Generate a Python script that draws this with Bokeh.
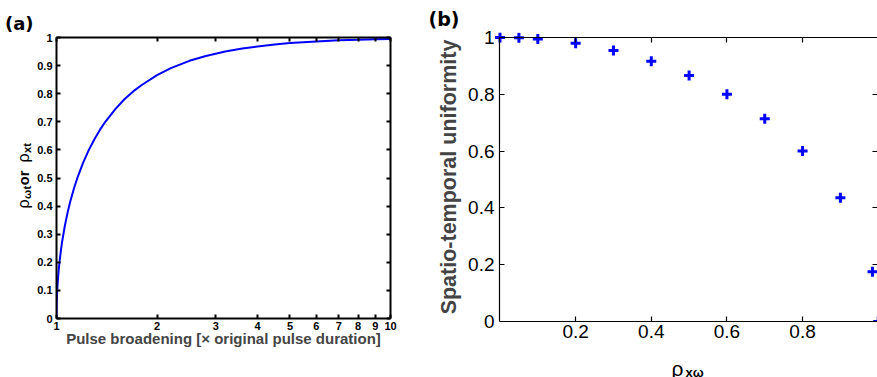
import numpy as np
from bokeh.plotting import figure
from bokeh.models import LinearAxis, LogAxis, FixedTicker, Range1d, Label
from bokeh.layouts import row, column
from bokeh.embed import file_html
from bokeh.resources import INLINE

# ---------------- data: panel (a) ----------------
pulse_broadening = [1.0, 1.001, 1.003, 1.006, 1.01, 1.015, 1.02, 1.03, 1.04, 1.06,
                    1.08, 1.1, 1.13, 1.16, 1.2, 1.25, 1.3, 1.35, 1.4, 1.5, 1.6, 1.7,
                    1.8, 2.0, 2.2, 2.5, 2.8, 3.2, 3.6, 4.0, 4.5, 5.0, 6.0, 7.0, 8.0,
                    9.0, 10.0]
rho_corr = [0.0, 0.045, 0.077, 0.109, 0.140, 0.171, 0.196, 0.239, 0.275, 0.332,
            0.378, 0.417, 0.466, 0.507, 0.553, 0.600, 0.639, 0.672, 0.700, 0.745,
            0.781, 0.809, 0.831, 0.866, 0.891, 0.917, 0.934, 0.950, 0.961, 0.968,
            0.975, 0.980, 0.986, 0.990, 0.992, 0.994, 0.995]
a_xticks = [1, 2, 3, 4, 5, 6, 7, 8, 9, 10]
a_xtick_labels = ["1", "2", "3", "4", "5", "6", "7", "8", "9", "10"]
a_yticks = [0, 0.1, 0.2, 0.3, 0.4, 0.5, 0.6, 0.7, 0.8, 0.9, 1.0]
a_ytick_labels = ["0", "0.1", "0.2", "0.3", "0.4", "0.5", "0.6", "0.7", "0.8", "0.9", "1"]

# ---------------- data: panel (b) ----------------
rho_xw = [0.0, 0.05, 0.1, 0.2, 0.3, 0.4, 0.5, 0.6, 0.7, 0.8, 0.9, 0.985, 1.0]
uniformity = [1.0, 0.999, 0.995, 0.980, 0.954, 0.916, 0.866, 0.800, 0.714, 0.600,
              0.436, 0.175, 0.0]
b_xticks = [0.2, 0.4, 0.6, 0.8, 1.0]
b_xtick_labels = ["0.2", "0.4", "0.6", "0.8", "1"]
b_yticks = [0, 0.2, 0.4, 0.6, 0.8, 1.0]
b_ytick_labels = ["0", "0.2", "0.4", "0.6", "0.8", "1"]

FONT = "Liberation Sans"
BLUE = "#0000FF"
H = 377
HB = 347  # height of panel (b) canvas; the rest is the strip for its x label


def style_axis(ax, ticks, labels, size, style, tick_in, lw, show=True, standoff=4):
    ax.ticker = FixedTicker(ticks=ticks)
    ax.major_label_overrides = {t: l for t, l in zip(ticks, labels)}
    ax.minor_tick_line_color = None
    ax.major_tick_in = tick_in
    ax.major_tick_out = 0
    ax.axis_line_width = lw
    ax.axis_line_color = "black"
    ax.major_tick_line_width = lw
    ax.major_tick_line_color = "black"
    ax.major_label_text_font = FONT
    ax.major_label_text_font_style = style
    ax.major_label_text_color = "black"
    if show:
        ax.major_label_text_font_size = f"{size}px"
        ax.major_label_standoff = standoff
    else:
        ax.major_label_text_font_size = "0px"
        ax.major_label_standoff = 0
        ax.axis_label_standoff = 0


def strip(width, height, bl, br, bt, bb):
    s = figure(width=width, height=height,
               x_range=Range1d(0, width - bl - br), y_range=Range1d(0, height - bt - bb),
               x_axis_location=None, y_axis_location=None,
               output_backend="svg", toolbar_location=None,
               min_border_left=bl, min_border_right=br,
               min_border_top=bt, min_border_bottom=bb)
    s.grid.visible = False
    s.outline_line_color = None
    s.background_fill_color = "white"
    s.border_fill_color = "white"
    return s


def lab(p, text, x, y, size, style="normal", angle=0.0, font=FONT):
    p.add_layout(Label(x=x, y=y, text=text, angle=angle, text_font=font,
                       text_font_size=f"{size}px", text_font_style=style,
                       text_color="black", text_baseline="alphabetic",
                       text_align="left"))


def panel_tag(p, text, offset, standoff, size):
    p.title.text = text
    p.title.align = "left"
    p.title.offset = offset
    p.title.text_font = "DejaVu Sans"
    p.title.text_font_size = f"{size}px"
    p.title.text_font_style = "bold"
    p.title.text_color = "black"
    p.title.standoff = standoff


# ---------------- left strip: tag and y label of (a) (frame = rows 37..318) ----------------
sa = strip(33, H, 0, 0, 37, 59)
rot = np.pi / 2
pieces = [("ρ", 16, "normal", 0, 0.60),
          ("ωt", 11, "bold", 3.5, 1.25),
          (" or ", 14.5, "bold", 0, 1.556),
          ("ρ", 16, "normal", 0, 0.60),
          ("xt", 11, "bold", 3.5, 0.9)]
yy = 318 - 208
for txt, sz, st, dx, wem in pieces:
    lab(sa, txt, 23 + dx, yy, sz, st, rot)
    yy += sz * wem
panel_tag(sa, "(a)", 4.5, 7, 18)

# ---------------- panel (a) ----------------
pa = figure(width=395, height=H, x_axis_type="log",
            x_range=Range1d(1, 10), y_range=Range1d(0, 1),
            output_backend="svg", toolbar_location=None,
            min_border_left=23, min_border_right=38,
            min_border_top=37, min_border_bottom=59)
pa.grid.visible = False
pa.outline_line_color = None
pa.background_fill_color = "white"
pa.border_fill_color = "white"
pa.line(pulse_broadening, rho_corr, line_color=BLUE, line_width=2)

style_axis(pa.xaxis[0], a_xticks, a_xtick_labels, 11, "bold", 4, 2, standoff=3)
style_axis(pa.yaxis[0], a_yticks, a_ytick_labels, 11, "bold", 4, 2, standoff=4)
pa.xaxis[0].axis_label = "Pulse broadening [× original pulse duration]"
pa.xaxis[0].axis_label_text_font = FONT
pa.xaxis[0].axis_label_text_font_size = "15px"
pa.xaxis[0].axis_label_text_font_style = "bold"
pa.xaxis[0].axis_label_standoff = -3

top_a = LogAxis()
style_axis(top_a, a_xticks, a_xtick_labels, 11, "bold", 4, 2, show=False)
pa.add_layout(top_a, "above")
right_a = LinearAxis()
style_axis(right_a, a_yticks, a_ytick_labels, 11, "bold", 4, 2, show=False)
pa.add_layout(right_a, "right")

# ---------------- panel (b) ----------------
pb = figure(width=449, height=HB,
            x_range=Range1d(-0.01454, 0.99815), y_range=Range1d(0, 1.0176),
            output_backend="svg", toolbar_location=None,
            min_border_left=66, min_border_right=0,
            min_border_top=32, min_border_bottom=HB - 321)
pb.grid.visible = False
pb.outline_line_color = None
pb.background_fill_color = "white"
pb.border_fill_color = "white"
pb.scatter(rho_xw, uniformity, marker="cross", size=10, line_width=3, line_color=BLUE)

# bottom axis: line, ticks and labels at y = 0 (frame bottom)
style_axis(pb.xaxis[0], b_xticks, b_xtick_labels, 19, "normal", 5, 1.2, standoff=3)
pb.xaxis[0].bounds = (0, 1)
# left axis: labels only (frame edge); line and ticks from a fixed axis at x = 0
style_axis(pb.yaxis[0], b_yticks, b_ytick_labels, 19, "normal", 0, 1.2, standoff=0)
pb.yaxis[0].axis_line_color = None
pb.yaxis[0].major_tick_line_color = None
pb.yaxis[0].axis_label = "Spatio-temporal uniformity"
pb.yaxis[0].axis_label_text_font = FONT
pb.yaxis[0].axis_label_text_font_size = "21.5px"
pb.yaxis[0].axis_label_text_font_style = "bold"
pb.yaxis[0].axis_label_standoff = 4

left_fix = LinearAxis(fixed_location=0, bounds=(0, 1))
style_axis(left_fix, b_yticks, b_ytick_labels, 19, "normal", 5, 1.2, show=False)
pb.add_layout(left_fix, "left")
top_b = LinearAxis(fixed_location=1.0, bounds=(0, 1))
style_axis(top_b, b_xticks, b_xtick_labels, 19, "normal", 5, 1.2, show=False)
pb.add_layout(top_b, "above")
right_b = LinearAxis()
style_axis(right_b, b_yticks, b_ytick_labels, 19, "normal", 5, 1.2, show=False)
right_b.axis_line_color = None
pb.add_layout(right_b, "right")
panel_tag(pb, "(b)", -66, 6, 19)

# ---------------- bottom strip: x label of (b) (frame = columns 494..877) ----------------
sb = strip(449, H - HB, 66, 0, 0, 0)
lab(sb, "ρ", 671 - 494, H - 368, 21, "normal")
lab(sb, "xω", 685 - 494, H - 372, 13, "bold")

layout = row(sa, pa, column(pb, sb))
open("out.html", "w").write(file_html(layout, INLINE))
